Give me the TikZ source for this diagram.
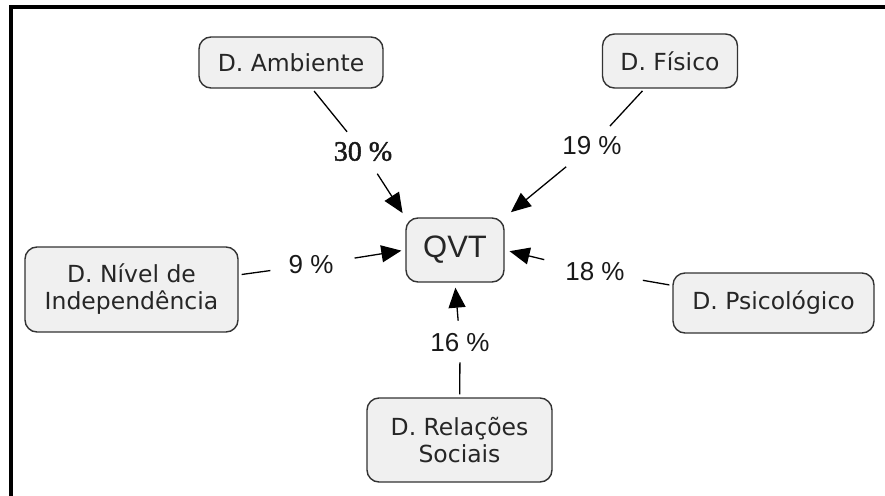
\documentclass[tikz,border=0pt]{standalone}
\usepackage{fontspec}
\setmainfont{DejaVu Sans}
\newfontfamily\labfont{Liberation Sans}
\newfontfamily\serlabfont[FakeBold=1.6]{Liberation Serif}
\usetikzlibrary{arrows.meta}
\begin{document}
\begin{tikzpicture}[x=1pt,y=-1pt,
  dimbox/.style={draw=black!80, line width=1.4pt, fill=black!6,
    rounded corners=12pt, inner sep=0pt, align=center, text=black!85,
    font=\fontsize{23.5}{27}\selectfont},
  pct/.style={inner xsep=18pt, inner ysep=10pt, text=black!90,
    font=\labfont\fontsize{26}{30}\selectfont},
  link/.style={line width=1.3pt, shorten <=3pt},
  arr/.style={link, -{Triangle[length=20pt,width=17pt]}, shorten >=5pt}]

% page area and the frame (top and left rules)
\useasboundingbox (0,0) rectangle (885,495);
\fill[white] (0,0) rectangle (885,495);
\draw[line width=4pt] (11,497) -- (11,7) -- (887,7);

% dimension boxes
\node[dimbox, minimum width=184pt, minimum height=51pt] (amb) at (291,62.5) {D. Ambiente};
\node[dimbox, minimum width=135pt, minimum height=54pt] (fis) at (670,61) {D. Físico};
\node[dimbox, minimum width=98pt, minimum height=64pt,
      font=\labfont\fontsize{31}{35}\selectfont] (qvt) at (455,250) {QVT};
\node[dimbox, minimum width=213pt, minimum height=85pt] (niv) at (131.5,289.5) {D. Nível de\\Independência};
\node[dimbox, minimum width=201pt, minimum height=60pt] (psi) at (773.5,303) {D. Psicológico};
\node[dimbox, minimum width=185pt, minimum height=84pt] (rel) at (459.5,440) {D. Relações\\Sociais};

% percentage labels
\node[pct, font=\serlabfont\fontsize{28}{32}\selectfont] (p30) at (363,151.5) {30 \%};
\node[pct] (p19) at (592,145.5) {19 \%};
\node[pct] (p9) at (311,265) {9 \%};
\node[pct] (p18) at (595,272) {18 \%};
\node[pct] (p16) at (460,343) {16 \%};

% connectors
\draw[link] (amb) -- (p30);
\draw[arr] (p30) -- (qvt.north west);
\draw[link] (fis) -- (p19);
\draw[arr, shorten >=8pt] (p19) -- (qvt.north east);
\draw[link] (niv) -- (p9);
\draw[arr, shorten >=4pt] (p9) -- (qvt.west);
\draw[link] (psi) -- (p18);
\draw[arr] (p18) -- (qvt.east);
\draw[link] (rel) -- (p16);
\draw[arr] (p16) -- (qvt.south);
\end{tikzpicture}
\end{document}
